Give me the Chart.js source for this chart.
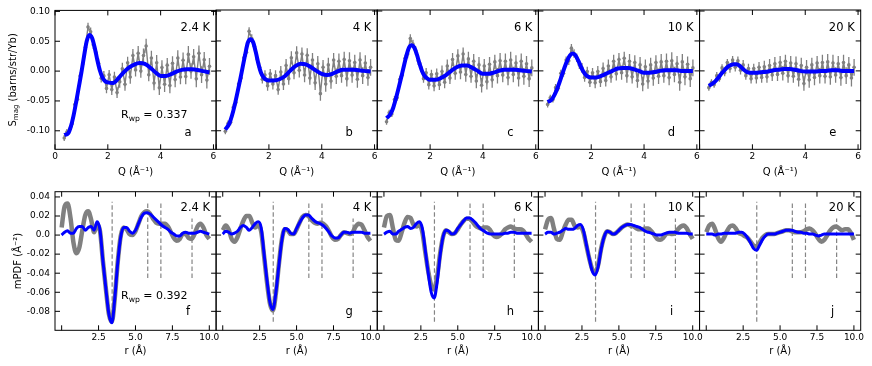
<!DOCTYPE html>
<html>
<head>
<meta charset="utf-8">
<script src="https://cdn.jsdelivr.net/npm/chart.js@4"></script>
<style>
  html, body { margin: 0; padding: 0; background: #fff; }
  #wrap { position: relative; width: 872px; height: 366px; }
  #wrap canvas { position: absolute; left: 0; top: 0; }
</style>
</head>
<body>
<div id="wrap"></div>
<script>
// ---- panel labels ----
const temps = ["2.4 K", "4 K", "6 K", "10 K", "20 K"];
const topLetters = ["a", "b", "c", "d", "e"];
const bottomLetters = ["f", "g", "h", "i", "j"];
const rwpTop = "0.337";
const rwpBottom = "0.392";

// ---- tick values / labels ----
const qTicks = [0, 2, 4, 6];
const qTickLabels = ["0", "2", "4", "6"];
const rTicks = [0, 2.5, 5, 7.5, 10];
const rTickLabels = ["", "2.5", "5.0", "7.5", "10.0"];
const topYTicks = [-0.10, -0.05, 0, 0.05, 0.10];
const topYLabels = ["-0.10", "-0.05", "0.00", "0.05", "0.10"];
const botYTicks = [-0.08, -0.06, -0.04, -0.02, 0, 0.02, 0.04];
const botYLabels = ["-0.08", "-0.06", "-0.04", "-0.02", "0.0", "0.02", "0.04"];

// ---- top row: S_mag(Q) data with error bars ----
const qData = [0.35,0.45,0.55,0.65,0.75,0.85,0.95,1.05,1.15,1.25,
  1.35,1.45,1.55,1.65,1.75,1.85,1.95,2.05,2.15,2.25,
  2.35,2.45,2.55,2.65,2.75,2.85,2.95,3.05,3.15,3.25,
  3.35,3.45,3.55,3.65,3.75,3.85,3.95,4.05,4.15,4.25,
  4.35,4.45,4.55,4.65,4.75,4.85,4.95,5.05,5.15,5.25,
  5.35,5.45,5.55,5.65,5.75,5.85];
const errQ = [0.005,0.005,0.005,0.006,0.005,0.006,0.006,0.006,0.007,0.007,
  0.007,0.007,0.007,0.008,0.007,0.008,0.008,0.008,0.009,0.009,
  0.009,0.010,0.010,0.011,0.010,0.011,0.011,0.011,0.012,0.011,
  0.012,0.012,0.011,0.012,0.012,0.013,0.012,0.012,0.013,0.012,
  0.013,0.012,0.013,0.013,0.012,0.013,0.013,0.014,0.013,0.013,
  0.014,0.013,0.014,0.013,0.014,0.014];
const sA = [-0.112,-0.102,-0.097,-0.088,-0.056,-0.047,-0.008,0.012,0.040,0.074,
  0.066,0.044,0.031,0.013,-0.012,-0.008,-0.029,-0.006,-0.031,-0.010,
  -0.036,-0.018,0.004,-0.022,0.014,-0.010,0.026,0.002,0.030,0.000,
  0.026,0.042,-0.006,0.022,-0.020,0.014,-0.028,0.006,-0.022,0.010,
  -0.024,0.013,-0.014,0.022,-0.010,0.018,-0.009,0.028,0.000,0.024,
  -0.013,0.030,-0.006,0.019,-0.015,0.008];
const sB = [-0.101,-0.088,-0.086,-0.061,-0.053,-0.022,-0.012,0.022,0.031,0.066,
  0.054,0.041,0.020,0.006,-0.014,-0.007,-0.025,-0.005,-0.022,-0.008,
  -0.031,-0.002,-0.022,0.009,-0.013,0.022,-0.003,0.030,0.001,0.028,
  -0.007,0.026,-0.012,0.018,-0.020,0.012,-0.038,0.006,-0.022,0.010,
  -0.017,0.018,-0.009,0.016,-0.008,0.019,-0.013,0.017,-0.007,0.014,
  -0.014,0.018,-0.008,0.013,-0.011,0.006];
const sC = [-0.085,-0.070,-0.072,-0.048,-0.045,-0.014,-0.007,0.021,0.028,0.054,
  0.045,0.034,0.017,0.006,-0.013,-0.003,-0.023,-0.006,-0.025,-0.005,
  -0.023,-0.001,-0.019,0.008,-0.012,0.019,-0.004,0.025,-0.002,0.028,
  -0.006,0.020,-0.009,0.016,-0.017,0.010,-0.024,0.008,-0.018,0.011,
  -0.015,0.015,-0.008,0.017,-0.007,0.016,-0.011,0.018,-0.006,0.013,
  -0.012,0.016,-0.009,0.012,-0.013,0.005];
const sD = [-0.056,-0.045,-0.048,-0.028,-0.029,-0.004,-0.004,0.018,0.017,0.038,
  0.029,0.022,0.010,0.005,-0.011,-0.001,-0.019,-0.003,-0.020,-0.001,
  -0.018,0.004,-0.016,0.008,-0.010,0.016,-0.005,0.019,-0.003,0.021,
  -0.008,0.016,-0.010,0.014,-0.016,0.010,-0.022,0.007,-0.017,0.010,
  -0.012,0.014,-0.009,0.015,-0.008,0.016,-0.011,0.017,-0.006,0.012,
  -0.019,0.015,-0.010,0.011,-0.013,0.005];
const sE = [-0.028,-0.019,-0.023,-0.008,-0.013,0.005,-0.003,0.014,0.004,0.018,
  0.006,0.017,0.001,0.010,-0.008,0.004,-0.013,0.004,-0.012,0.006,
  -0.011,0.007,-0.010,0.009,-0.007,0.012,-0.006,0.014,-0.004,0.016,
  -0.008,0.013,-0.009,0.012,-0.014,0.009,-0.021,0.006,-0.015,0.010,
  -0.011,0.013,-0.008,0.014,-0.009,0.015,-0.010,0.013,-0.007,0.012,
  -0.011,0.014,-0.008,0.010,-0.012,0.006];

// ---- top row: fits ----
const qFit = [0.35,0.5,0.6,0.7,0.8,0.9,1.0,1.1,1.2,1.3,
  1.4,1.5,1.6,1.7,1.8,1.9,2.0,2.2,2.4,2.6,
  2.8,3.0,3.2,3.4,3.6,3.8,4.0,4.2,4.4,4.6,
  4.8,5.0,5.2,5.4,5.6,5.85];
const fitA = [-0.107,-0.104,-0.093,-0.075,-0.052,-0.027,-0.002,0.025,0.050,0.0605,
  0.056,0.040,0.019,0.001,-0.011,-0.017,-0.019,-0.020,-0.012,-0.002,
  0.006,0.011,0.0135,0.012,0.006,-0.002,-0.008,-0.008,-0.005,-0.001,
  0.002,0.003,0.003,0.002,0.000,-0.002];
const fitB = [-0.098,-0.088,-0.075,-0.058,-0.038,-0.017,0.005,0.027,0.047,0.053,
  0.048,0.032,0.012,-0.003,-0.011,-0.015,-0.016,-0.016,-0.014,-0.009,
  0.000,0.008,0.012,0.011,0.006,0.000,-0.005,-0.007,-0.005,-0.001,
  0.002,0.002,0.002,0.001,0.000,-0.001];
const fitC = [-0.079,-0.072,-0.062,-0.047,-0.030,-0.012,0.007,0.025,0.039,0.043,
  0.039,0.027,0.012,-0.001,-0.009,-0.013,-0.015,-0.015,-0.012,-0.007,
  0.000,0.006,0.009,0.009,0.005,0.000,-0.005,-0.005,-0.003,0.000,
  0.002,0.002,0.002,0.001,0.000,-0.001];
const fitD = [-0.052,-0.048,-0.041,-0.031,-0.019,-0.006,0.007,0.018,0.026,0.029,
  0.026,0.018,0.008,-0.001,-0.007,-0.010,-0.011,-0.011,-0.008,-0.004,
  0.000,0.004,0.005,0.005,0.003,0.000,-0.003,-0.003,-0.002,0.000,
  0.001,0.001,0.001,0.000,0.000,0.000];
const fitE = [-0.025,-0.021,-0.017,-0.012,-0.006,-0.001,0.004,0.008,0.010,0.011,
  0.011,0.009,0.005,0.001,-0.002,-0.003,-0.003,-0.003,-0.002,-0.001,
  0.001,0.002,0.003,0.003,0.002,0.000,-0.001,-0.001,-0.001,0.000,
  0.000,0.001,0.001,0.000,0.000,0.000];

// ---- bottom row: mPDF(r) ----
const rGrid = [0,0.2,0.4,0.6,0.8,1.0,1.2,1.4,1.6,1.8,
  2.0,2.2,2.4,2.6,2.8,3.0,3.2,3.4,3.6,3.8,
  4.0,4.2,4.4,4.6,4.8,5.0,5.2,5.4,5.6,5.8,
  6.0,6.2,6.4,6.6,6.8,7.0,7.2,7.4,7.6,7.8,
  8.0,8.2,8.4,8.6,8.8,9.0,9.2,9.4,9.6,9.8,
  10.0];
const obsF = [0.008,0.030,0.033,0.018,-0.008,-0.019,-0.013,0.005,0.021,0.025,
  0.016,0.003,0.011,0.004,-0.028,-0.057,-0.083,-0.091,-0.066,-0.028,
  -0.001,0.008,0.006,0.001,0.000,0.004,0.012,0.020,0.024,0.025,
  0.022,0.017,0.013,0.012,0.012,0.012,0.009,0.003,-0.003,-0.006,
  -0.004,0.001,0.001,-0.003,-0.004,0.001,0.009,0.012,0.008,0.000,
  -0.004];
const calcF = [0.000,0.003,0.0045,0.002,0.002,0.007,0.009,0.009,0.005,0.008,
  0.009,0.005,0.014,0.005,-0.028,-0.057,-0.083,-0.092,-0.066,-0.029,
  -0.002,0.008,0.008,0.004,0.002,0.005,0.012,0.019,0.023,0.0235,
  0.022,0.019,0.016,0.013,0.010,0.008,0.006,0.003,0.001,-0.001,
  -0.001,0.002,0.003,0.002,0.002,0.002,0.003,0.004,0.003,0.002,
  0.001];
const obsG = [0.005,0.010,0.006,-0.004,-0.007,-0.002,0.007,0.015,0.020,0.020,
  0.013,0.008,0.010,0.004,-0.022,-0.050,-0.072,-0.079,-0.061,-0.031,
  -0.005,0.006,0.005,0.001,0.001,0.006,0.013,0.019,0.021,0.020,
  0.016,0.013,0.012,0.013,0.012,0.009,0.004,-0.002,-0.005,-0.004,
  0.000,0.003,0.002,0.001,0.003,0.009,0.012,0.011,0.005,-0.002,
  -0.006];
const calcG = [0.001,0.004,0.003,0.001,0.002,0.004,0.008,0.010,0.008,0.005,
  0.008,0.012,0.014,0.008,-0.020,-0.048,-0.071,-0.078,-0.060,-0.032,
  -0.006,0.007,0.006,0.002,0.001,0.007,0.013,0.018,0.021,0.021,
  0.018,0.015,0.013,0.012,0.010,0.007,0.003,-0.001,-0.003,-0.003,
  0.000,0.003,0.003,0.002,0.003,0.003,0.003,0.003,0.002,0.002,
  0.002];
const obsH = [0.008,0.020,0.021,0.008,-0.005,-0.006,0.003,0.013,0.019,0.018,
  0.011,0.009,0.011,0.003,-0.018,-0.038,-0.053,-0.057,-0.044,-0.020,
  -0.002,0.005,0.003,0.001,0.002,0.006,0.011,0.015,0.017,0.017,
  0.014,0.010,0.008,0.007,0.008,0.008,0.005,0.000,-0.002,-0.001,
  0.002,0.006,0.008,0.009,0.007,0.006,0.006,0.005,0.001,-0.004,
  -0.007];
const calcH = [0.001,0.003,0.004,0.001,0.001,0.004,0.006,0.008,0.009,0.007,
  0.008,0.012,0.014,0.007,-0.016,-0.040,-0.060,-0.066,-0.050,-0.022,
  -0.002,0.005,0.004,0.001,0.002,0.007,0.011,0.015,0.018,0.018,
  0.016,0.013,0.009,0.006,0.004,0.002,0.001,0.001,0.001,0.001,
  0.001,0.002,0.002,0.003,0.003,0.002,0.002,0.002,0.002,0.002,
  0.002];
const obsI = [0.006,0.016,0.018,0.007,-0.004,-0.005,0.003,0.011,0.016,0.016,
  0.010,0.008,0.009,0.003,-0.011,-0.025,-0.036,-0.039,-0.031,-0.014,
  -0.002,0.004,0.003,0.001,0.002,0.005,0.008,0.010,0.011,0.010,
  0.009,0.007,0.006,0.006,0.007,0.007,0.004,0.000,-0.004,-0.005,
  -0.003,0.001,0.002,0.001,0.002,0.006,0.009,0.010,0.007,0.001,
  -0.004];
const calcI = [0.001,0.003,0.003,0.001,0.002,0.003,0.005,0.007,0.006,0.006,
  0.007,0.010,0.011,0.005,-0.010,-0.025,-0.038,-0.042,-0.033,-0.015,
  -0.002,0.004,0.003,0.001,0.002,0.005,0.008,0.010,0.011,0.011,
  0.010,0.009,0.008,0.006,0.004,0.003,0.002,0.001,0.000,0.000,
  0.001,0.002,0.003,0.003,0.003,0.002,0.002,0.002,0.002,0.001,
  0.001];
const obsJ = [0.003,0.010,0.012,0.006,-0.003,-0.007,-0.003,0.004,0.009,0.010,
  0.007,0.002,0.001,-0.001,-0.003,-0.007,-0.011,-0.012,-0.008,-0.003,
  0.000,0.001,0.001,0.001,0.002,0.003,0.004,0.005,0.005,0.004,
  0.003,0.003,0.003,0.004,0.006,0.007,0.005,0.001,-0.004,-0.007,
  -0.005,0.000,0.005,0.008,0.009,0.007,0.005,0.006,0.006,0.002,
  -0.005];
const calcJ = [0.001,0.001,0.001,0.000,0.001,0.001,0.002,0.002,0.002,0.002,
  0.002,0.003,0.003,0.001,-0.003,-0.008,-0.014,-0.016,-0.011,-0.005,
  -0.001,0.001,0.001,0.001,0.002,0.003,0.004,0.005,0.005,0.005,
  0.004,0.003,0.003,0.002,0.002,0.001,0.001,0.000,-0.001,0.000,
  0.001,0.001,0.001,0.001,0.001,0.001,0.001,0.001,0.001,0.001,
  0.001];

// dashed guide lines in the mPDF panels
const dashR = [3.42, 5.83, 6.72, 8.83];
const dashLo = [-0.091, -0.045, -0.045, -0.045];
const dashHi = [0.035, 0.035, 0.035, 0.0175];

const topObs = [sA, sB, sC, sD, sE];
const topFit = [fitA, fitB, fitC, fitD, fitE];
const botObs = [obsF, obsG, obsH, obsI, obsJ];
const botCalc = [calcF, calcG, calcH, calcI, calcJ];

// ---- layout ----
const W = 872, H = 366;
const PANEL_L = [55, 216.1, 377.3, 538.4, 699.6];
const PANEL_W = 161.1;
const ROWS = [
  { top: 10, bottom: 149.3, xH: 29.4, xMin: 0, xMax: 6.1, yMin: -0.131, yMax: 0.1017 },
  { top: 191.7, bottom: 330.3, xH: 27.4, xMin: -0.45, xMax: 10.46, yMin: -0.0999, yMax: 0.0455 }
];
const Y_AXIS_W = 50;
const GREY = "#808080";
const BLUE = "#0000ff";
const FONT = "DejaVu Sans";

Chart.defaults.font.family = FONT;
Chart.defaults.color = "#000";

const wrap = document.getElementById("wrap");

function makeCanvas() {
  const c = document.createElement("canvas");
  c.width = W;
  c.height = H;
  wrap.appendChild(c);
  return c;
}

function drawSub(ctx, x, y, size, main, sub, rest) {
  ctx.font = size + 'px "' + FONT + '"';
  ctx.fillText(main, x, y);
  x += ctx.measureText(main).width;
  ctx.font = (size * 0.7) + 'px "' + FONT + '"';
  ctx.fillText(sub, x, y + size * 0.3);
  x += ctx.measureText(sub).width;
  ctx.font = size + 'px "' + FONT + '"';
  ctx.fillText(rest, x, y);
}

function subWidth(ctx, size, main, sub, rest) {
  ctx.font = size + 'px "' + FONT + '"';
  let w = ctx.measureText(main).width + ctx.measureText(rest).width;
  ctx.font = (size * 0.7) + 'px "' + FONT + '"';
  return w + ctx.measureText(sub).width;
}

// frame with inward ticks on all four sides
const framePlugin = {
  id: "frame",
  afterDraw(chart, args, o) {
    const { ctx, chartArea: a, scales: { x, y } } = chart;
    ctx.save();
    ctx.strokeStyle = "#000";
    ctx.lineWidth = 1;
    ctx.strokeRect(a.left, a.top, a.right - a.left, a.bottom - a.top);
    ctx.beginPath();
    o.xTicks.forEach(v => {
      const px = x.getPixelForValue(v);
      ctx.moveTo(px, a.bottom); ctx.lineTo(px, a.bottom - 5);
      ctx.moveTo(px, a.top); ctx.lineTo(px, a.top + 5);
    });
    o.yTicks.forEach(v => {
      const py = y.getPixelForValue(v);
      ctx.moveTo(a.left, py); ctx.lineTo(a.left + 5, py);
      ctx.moveTo(a.right, py); ctx.lineTo(a.right - 5, py);
    });
    ctx.stroke();
    ctx.restore();
  }
};

// temperature, panel letter, R_wp and the subscripted y title
const textPlugin = {
  id: "panelText",
  afterDraw(chart, args, o) {
    const { ctx, chartArea: a } = chart;
    ctx.save();
    ctx.fillStyle = "#000";
    ctx.textBaseline = "middle";
    ctx.font = '11.5px "' + FONT + '"';
    ctx.textAlign = "right";
    ctx.fillText(o.temp, a.right - 6, a.top + o.tempDy);
    ctx.textAlign = "center";
    ctx.fillText(o.letter, a.right - 28, a.bottom - o.letterDy);
    ctx.textAlign = "left";
    if (o.rwp) drawSub(ctx, a.left + 66, a.bottom - 34, 11, "R", "wp", " = " + o.rwp);
    if (o.yTitle) {
      ctx.translate(13, (a.top + a.bottom) / 2);
      ctx.rotate(-Math.PI / 2);
      const w = subWidth(ctx, 10, "S", "mag", " (barns/str/Yb)");
      drawSub(ctx, -w / 2, 0, 10, "S", "mag", " (barns/str/Yb)");
    }
    ctx.restore();
  }
};

// vertical error bars on the measured S(Q) points
const errorPlugin = {
  id: "errorBars",
  afterDatasetDraw(chart, args, o) {
    if (!o.err || args.index !== o.index) return;
    const { ctx, chartArea: a, scales: { x, y } } = chart;
    const pts = chart.data.datasets[args.index].data;
    ctx.save();
    ctx.beginPath();
    ctx.rect(a.left, a.top, a.right - a.left, a.bottom - a.top);
    ctx.clip();
    ctx.strokeStyle = GREY;
    ctx.lineWidth = 1.3;
    ctx.beginPath();
    pts.forEach((p, i) => {
      const px = x.getPixelForValue(p.x);
      ctx.moveTo(px, y.getPixelForValue(p.y - o.err[i]));
      ctx.lineTo(px, y.getPixelForValue(p.y + o.err[i]));
    });
    ctx.stroke();
    ctx.restore();
  }
};

function buildPanel(row, col) {
  const R = ROWS[row];
  const left = PANEL_L[col];
  const right = left + PANEL_W;
  const yW = col === 0 ? Y_AXIS_W : 0;
  const xTicks = row === 0 ? qTicks : rTicks;
  const xLabels = row === 0
    ? qTickLabels.map((t, i) => (i === 0 && col > 0 ? "" : t))
    : rTickLabels;
  const yTicks = row === 0 ? topYTicks : botYTicks;
  const yLabels = row === 0 ? topYLabels : botYLabels;

  let datasets;
  if (row === 0) {
    datasets = [
      {
        data: qFit.map((q, i) => ({ x: q, y: topFit[col][i] })),
        borderColor: BLUE, borderWidth: 4, pointRadius: 0,
        cubicInterpolationMode: "monotone"
      },
      {
        data: qData.map((q, i) => ({ x: q, y: topObs[col][i] })),
        borderColor: GREY, borderWidth: 1.4, pointRadius: 1.8,
        pointBorderWidth: 0, pointBackgroundColor: GREY, tension: 0
      }
    ];
  } else {
    datasets = [
      {
        data: rGrid.map((r, i) => ({ x: r, y: botCalc[col][i] })),
        borderColor: BLUE, borderWidth: 3, pointRadius: 0,
        cubicInterpolationMode: "monotone"
      },
      {
        data: rGrid.map((r, i) => ({ x: r, y: botObs[col][i] })),
        borderColor: GREY, borderWidth: 4.5, pointRadius: 0,
        cubicInterpolationMode: "monotone"
      }
    ];
    dashR.forEach((r, i) => {
      datasets.push({
        data: [{ x: r, y: dashLo[i] }, { x: r, y: dashHi[i] }],
        borderColor: "#858585", borderWidth: 1.2, borderDash: [4.5, 2.5],
        pointRadius: 0
      });
    });
  }

  new Chart(makeCanvas(), {
    type: "line",
    data: { datasets },
    options: {
      responsive: false,
      animation: false,
      devicePixelRatio: 1,
      events: [],
      layout: {
        padding: { left: left - yW, right: W - right, top: R.top, bottom: H - R.bottom - R.xH }
      },
      plugins: {
        legend: { display: false },
        tooltip: { enabled: false },
        frame: { xTicks, yTicks },
        panelText: {
          temp: temps[col],
          tempDy: row === 0 ? 18 : 16.6,
          letter: row === 0 ? topLetters[col] : bottomLetters[col],
          letterDy: row === 0 ? 16 : 18.6,
          rwp: col === 0 ? (row === 0 ? rwpTop : rwpBottom) : null,
          yTitle: row === 0 && col === 0
        },
        errorBars: row === 0 ? { index: 1, err: errQ } : {}
      },
      scales: {
        x: {
          type: "linear",
          min: R.xMin, max: R.xMax,
          afterFit: s => { s.height = R.xH; },
          afterBuildTicks: s => { s.ticks = xTicks.map(v => ({ value: v })); },
          grid: { display: false, drawTicks: false },
          border: { display: false },
          ticks: {
            autoSkip: false, maxRotation: 0, padding: 2,
            font: { size: 9 }, color: "#000",
            callback: (v, i) => xLabels[i]
          },
          title: {
            display: true, text: row === 0 ? "Q (Å⁻¹)" : "r (Å)",
            font: { size: 10 }, color: "#000", padding: 0
          }
        },
        y: {
          type: "linear",
          display: col === 0,
          min: R.yMin, max: R.yMax,
          afterFit: s => { s.width = yW; },
          afterBuildTicks: s => { s.ticks = yTicks.map(v => ({ value: v })); },
          grid: { display: false, drawTicks: false },
          border: { display: false },
          ticks: {
            autoSkip: false, padding: 5,
            font: { size: 9 }, color: "#000",
            callback: (v, i) => yLabels[i]
          },
          title: {
            display: row === 1, text: "mPDF (Å⁻²)",
            font: { size: 10 }, color: "#000", padding: { top: 7, bottom: 0 }
          }
        }
      }
    },
    plugins: [framePlugin, textPlugin, errorPlugin]
  });
}

for (let row = 0; row < 2; row++) {
  for (let col = 0; col < 5; col++) buildPanel(row, col);
}
</script>
</body>
</html>
